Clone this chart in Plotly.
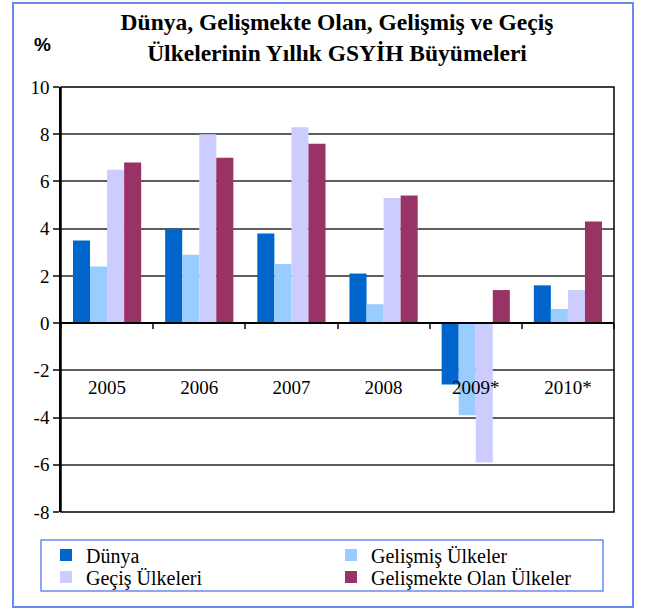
import plotly.graph_objects as go

categories = ["2005", "2006", "2007", "2008", "2009*", "2010*"]
dunya = [3.5, 4.0, 3.8, 2.1, -2.6, 1.6]
gelismis = [2.4, 2.9, 2.5, 0.8, -3.9, 0.6]
gecis = [6.5, 8.0, 8.3, 5.3, -5.9, 1.4]
gelismekte = [6.8, 7.0, 7.6, 5.4, 1.4, 4.3]
y_ticks = [-8, -6, -4, -2, 0, 2, 4, 6, 8, 10]
y_tick_labels = ["-8", "-6", "-4", "-2", "0", "2", "4", "6", "8", "10"]

series = [
    ("Dünya", dunya, "#0066CC", "legend"),
    ("Gelişmiş Ülkeler", gelismis, "#99CCFF", "legend"),
    ("Geçiş Ülkeleri", gecis, "#CCCCFF", "legend2"),
    ("Gelişmekte Olan Ülkeler", gelismekte, "#993366", "legend2"),
]

W, H = 645, 610
L, R, T, B = 61, 31, 87, 98
pw, ph = W - L - R, H - T - B
ymin, ymax = -8, 10

serif = "Liberation Serif"

fig = go.Figure()
for name, vals, col, leg in series:
    fig.add_trace(go.Bar(x=categories, y=vals, name=name, legend=leg,
                         marker=dict(color=col, line=dict(width=0))))

def px_x(p):
    return (p - L) / pw

def px_y(p):
    return (H - B - p) / ph

legend_common = dict(
    orientation="h", xanchor="left", yanchor="middle",
    entrywidth=240, borderwidth=0, bgcolor="rgba(0,0,0,0)",
    font=dict(family=serif, size=20, color="black"), traceorder="normal",
)

fig.update_layout(
    width=W, height=H,
    margin=dict(l=L, r=R, t=T, b=B, autoexpand=False),
    paper_bgcolor="white", plot_bgcolor="white",
    barmode="group", bargap=0.26, bargroupgap=0,
    font=dict(family=serif, size=19, color="black"),
    title=dict(
        text="<b>Dünya, Gelişmekte Olan, Gelişmiş ve Geçiş<br>Ülkelerinin Yıllık GSYİH Büyümeleri</b>",
        x=337 / W, xanchor="center", y=1 - 30 / H, yanchor="middle",
        font=dict(family=serif, size=23.5, color="black"),
    ),
    showlegend=True,
    legend=dict(x=px_x(46), y=px_y(555), **legend_common),
    legend2=dict(x=px_x(46), y=px_y(577), **legend_common),
    xaxis=dict(
        anchor="free", position=(0 - ymin) / (ymax - ymin),
        showline=True, linecolor="black", linewidth=1.5,
        ticks="outside", tickson="boundaries", ticklen=5, tickcolor="#444", tickwidth=1.5,
        ticklabelstandoff=47, showgrid=False,
        tickfont=dict(family=serif, size=19, color="black"),
    ),
    yaxis=dict(
        range=[ymin, ymax], tickvals=y_ticks, ticktext=y_tick_labels,
        showgrid=True, gridcolor="#5e5e5e", gridwidth=1.5,
        zeroline=False,
        showline=True, linecolor="black", linewidth=1.5,
        ticks="outside", ticklen=6, tickcolor="#444", tickwidth=1.5,
        tickfont=dict(family=serif, size=19, color="black"),
    ),
    shapes=[
        dict(type="rect", xref="paper", yref="paper", x0=0, x1=1, y0=0, y1=1,
             line=dict(color="black", width=1.5), layer="above"),
        dict(type="rect", xref="paper", yref="paper",
             x0=px_x(13), x1=px_x(633), y0=px_y(607), y1=px_y(3),
             line=dict(color="#6A8AF0", width=2), layer="below"),
        dict(type="rect", xref="paper", yref="paper",
             x0=px_x(41), x1=px_x(603), y0=px_y(591), y1=px_y(540),
             line=dict(color="#6A8AF0", width=1.5), layer="below"),
    ],
    annotations=[
        dict(text="<b>%</b>", xref="paper", yref="paper", x=px_x(42), y=px_y(44),
             xanchor="center", yanchor="middle", showarrow=False,
             font=dict(family="Liberation Sans", size=19, color="black")),
    ],
)

fig.write_html("out.html", config={"displayModeBar": False},
               post_script="document.body.style.margin='0';")
